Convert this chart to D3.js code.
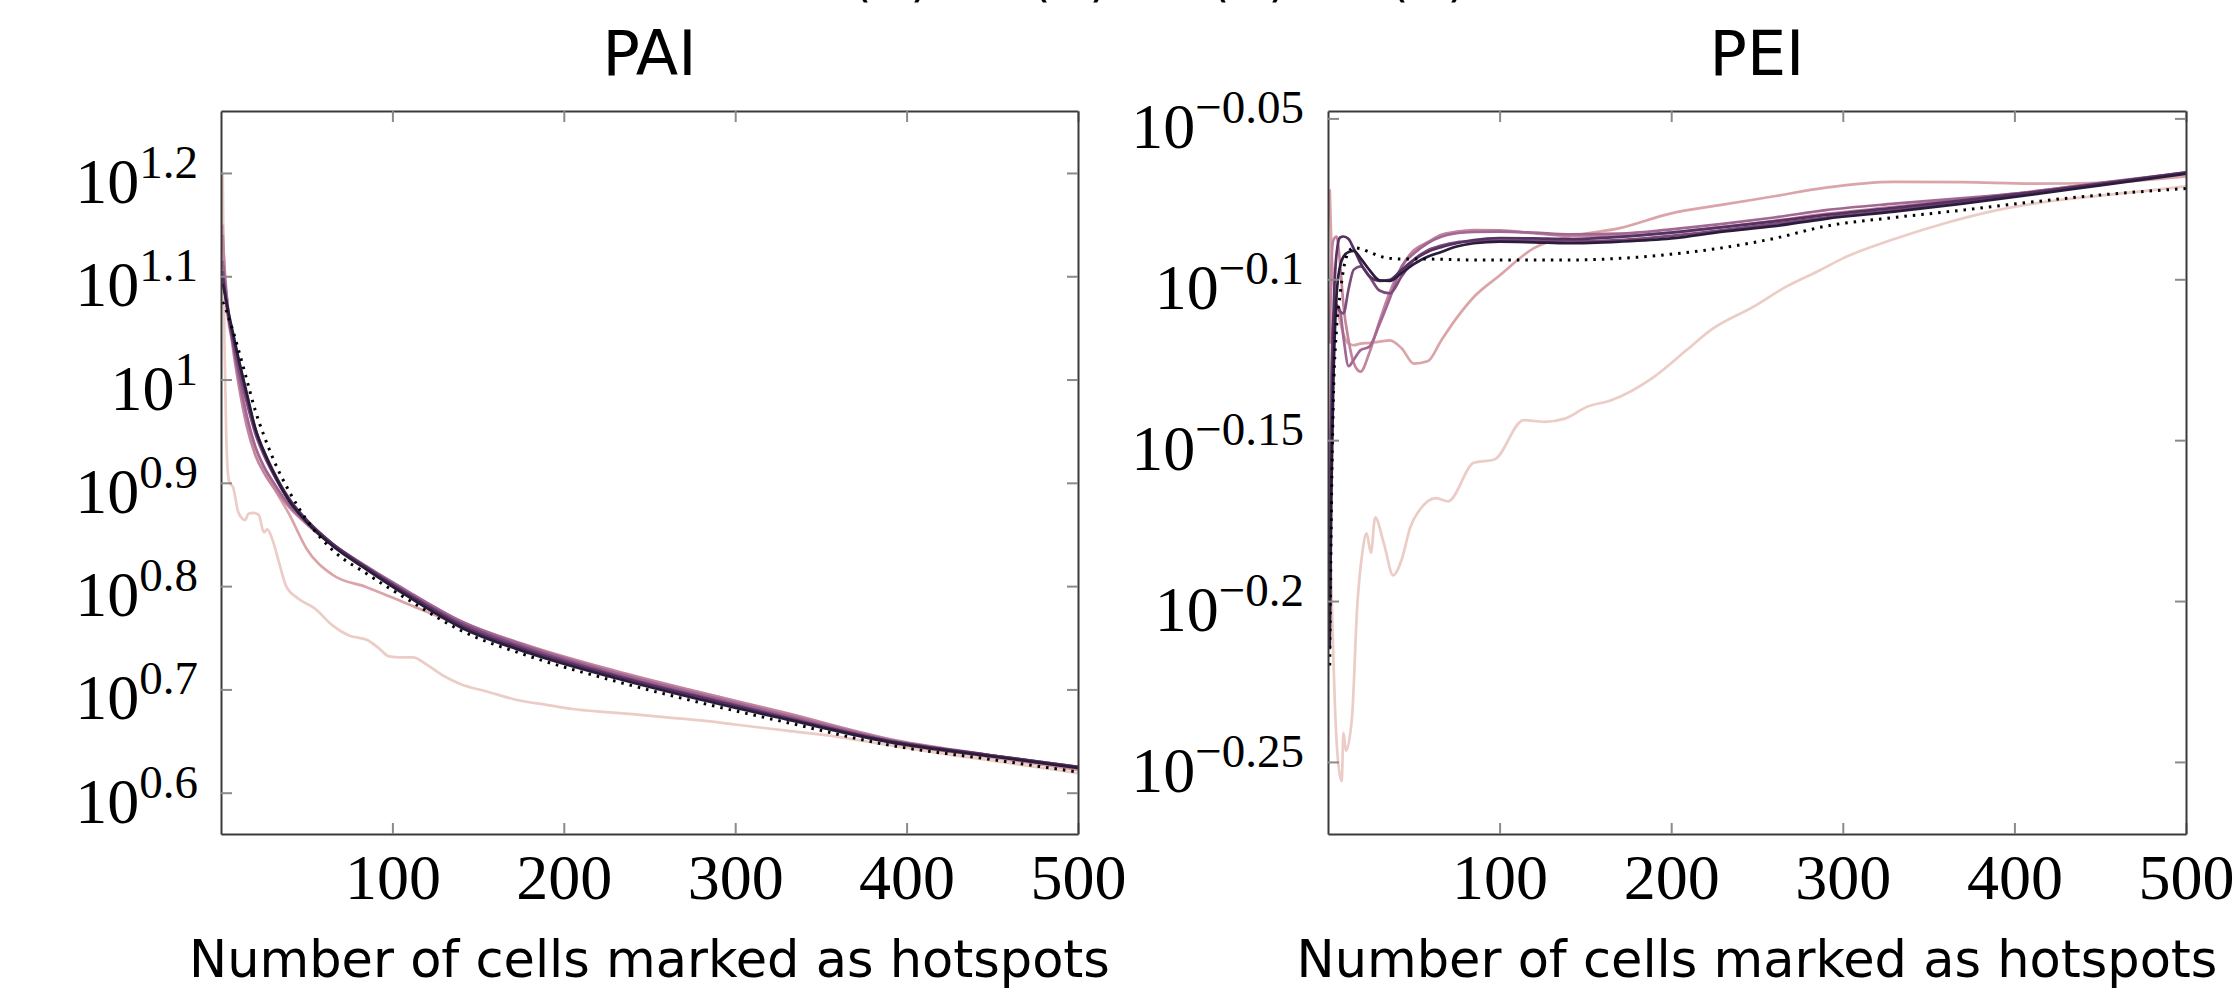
<!DOCTYPE html>
<html>
<head>
<meta charset="utf-8">
<script src="https://cdn.jsdelivr.net/npm/d3@7"></script>
<style>
  body { margin: 0; background: #fff; }
  svg { display: block; }
</style>
</head>
<body>
<svg id="chart" width="2233" height="996"></svg>
<script>
// values are log10 of the metric (axes are labelled 10^x)

// ---- PAI ----
var cellsPai = [1, 2, 4, 7, 10, 15, 20, 25, 30, 40, 50, 65, 85, 110, 140, 180, 230, 280, 330, 390, 450, 500];
var paiRun2 = [1.150, 1.100, 1.060, 1.035, 1.005, 0.965, 0.935, 0.915, 0.898, 0.869, 0.836, 0.811, 0.799, 0.782, 0.762, 0.740, 0.716, 0.697, 0.676, 0.649, 0.634, 0.622];
var paiRun3 = [1.140, 1.110, 1.070, 1.030, 0.998, 0.955, 0.927, 0.910, 0.897, 0.876, 0.860, 0.840, 0.818, 0.793, 0.766, 0.742, 0.718, 0.697, 0.677, 0.652, 0.636, 0.623];
var paiRun4 = [1.115, 1.100, 1.070, 1.035, 1.005, 0.965, 0.935, 0.916, 0.902, 0.878, 0.861, 0.841, 0.819, 0.794, 0.766, 0.741, 0.716, 0.695, 0.675, 0.651, 0.636, 0.624];
var paiRun5 = [1.105, 1.090, 1.064, 1.036, 1.012, 0.978, 0.948, 0.927, 0.910, 0.882, 0.863, 0.841, 0.818, 0.792, 0.764, 0.739, 0.714, 0.693, 0.673, 0.650, 0.636, 0.625];
var paiRun6 = [1.100, 1.088, 1.066, 1.042, 1.020, 0.985, 0.952, 0.931, 0.913, 0.884, 0.864, 0.841, 0.818, 0.791, 0.762, 0.737, 0.713, 0.692, 0.672, 0.650, 0.636, 0.625];
var paiRun7 = [1.093, 1.085, 1.068, 1.045, 1.022, 0.987, 0.953, 0.930, 0.912, 0.882, 0.862, 0.839, 0.816, 0.789, 0.760, 0.735, 0.711, 0.690, 0.671, 0.649, 0.635, 0.624];
var paiBaseline = [1.075, 1.072, 1.062, 1.047, 1.030, 1.000, 0.970, 0.946, 0.925, 0.891, 0.864, 0.835, 0.812, 0.786, 0.757, 0.732, 0.708, 0.687, 0.668, 0.646, 0.632, 0.620];
// lightest run is noisier, sampled more often
var cellsPaiRun1 = [1, 2, 3, 4, 5, 7, 10, 12, 14, 16, 19, 22, 25, 27, 30, 34, 38, 45, 55, 65, 75, 85, 92, 98, 105, 112, 120, 130, 140, 155, 172, 190, 205, 225, 240, 260, 280, 300, 330, 360, 390, 420, 450, 475, 500];
var paiRun1 = [1.200, 1.040, 0.950, 0.910, 0.900, 0.896, 0.872, 0.866, 0.864, 0.870, 0.871, 0.869, 0.852, 0.855, 0.845, 0.822, 0.800, 0.788, 0.778, 0.762, 0.752, 0.748, 0.740, 0.732, 0.731, 0.731, 0.724, 0.713, 0.705, 0.698, 0.690, 0.685, 0.681, 0.678, 0.676, 0.673, 0.670, 0.666, 0.660, 0.654, 0.646, 0.638, 0.631, 0.625, 0.619];
var paiTickExps = [0.6, 0.7, 0.8, 0.9, 1, 1.1, 1.2];

// ---- PEI ----
var cellsPei = [1, 2, 3, 5, 7, 9, 12, 15, 19, 24, 30, 36, 43, 50, 58, 66, 75, 85, 100, 120, 140, 170, 200, 230, 260, 290, 330, 370, 410, 450, 500];
var peiRun2 = [-0.072, -0.090, -0.100, -0.108, -0.113, -0.117, -0.120, -0.1205, -0.120, -0.1198, -0.1194, -0.119, -0.1215, -0.1262, -0.1255, -0.119, -0.112, -0.1055, -0.0988, -0.0903, -0.0868, -0.0841, -0.0795, -0.0768, -0.0742, -0.0715, -0.0697, -0.0698, -0.0703, -0.0700, -0.0680];
var peiRun3 = [-0.120, -0.095, -0.088, -0.0867, -0.095, -0.108, -0.119, -0.126, -0.1287, -0.123, -0.113, -0.104, -0.096, -0.091, -0.0885, -0.0862, -0.0852, -0.0847, -0.0848, -0.0857, -0.0865, -0.0865, -0.0855, -0.0838, -0.0818, -0.0797, -0.0775, -0.0752, -0.0728, -0.0702, -0.0670];
var peiRun4 = [-0.170, -0.130, -0.112, -0.108, -0.1096, -0.118, -0.127, -0.125, -0.122, -0.121, -0.114, -0.106, -0.096, -0.092, -0.0888, -0.0868, -0.0857, -0.0853, -0.0852, -0.0855, -0.0860, -0.0858, -0.0845, -0.0828, -0.0808, -0.0785, -0.0765, -0.0748, -0.0728, -0.0700, -0.0668];
var peiRun5 = [-0.190, -0.140, -0.115, -0.1085, -0.110, -0.1106, -0.103, -0.097, -0.096, -0.099, -0.1035, -0.1044, -0.099, -0.094, -0.091, -0.0895, -0.0885, -0.0882, -0.0880, -0.0880, -0.0882, -0.0878, -0.0865, -0.0847, -0.0828, -0.0808, -0.0785, -0.0760, -0.0734, -0.0705, -0.0670];
var peiRun6 = [-0.200, -0.150, -0.115, -0.092, -0.087, -0.0867, -0.0875, -0.0905, -0.095, -0.099, -0.1005, -0.1002, -0.097, -0.094, -0.0915, -0.090, -0.0888, -0.0878, -0.0872, -0.0873, -0.0875, -0.0868, -0.0855, -0.0838, -0.0820, -0.0800, -0.0778, -0.0755, -0.0730, -0.0703, -0.0668];
var peiRun7 = [-0.215, -0.165, -0.135, -0.105, -0.096, -0.093, -0.0915, -0.0912, -0.0935, -0.097, -0.1003, -0.1005, -0.098, -0.0953, -0.093, -0.0915, -0.0898, -0.0888, -0.0883, -0.0885, -0.0888, -0.0883, -0.0873, -0.0852, -0.0835, -0.0812, -0.0790, -0.0765, -0.0737, -0.0708, -0.0672];
var peiBaseline = [-0.220, -0.170, -0.140, -0.115, -0.105, -0.097, -0.0915, -0.0902, -0.0905, -0.0915, -0.0928, -0.0935, -0.0937, -0.0937, -0.0937, -0.0938, -0.0939, -0.0940, -0.0940, -0.0940, -0.0940, -0.0935, -0.0922, -0.0902, -0.0873, -0.0835, -0.0808, -0.0785, -0.0760, -0.0738, -0.0718];
var cellsPeiRun1 = [1, 1.5, 2, 3, 4, 5.5, 8, 9, 10.5, 14, 17, 20, 22.5, 25, 27.5, 32.5, 38, 43, 48, 53, 63, 70, 85, 97, 114, 126, 138, 151, 165, 190, 209, 223, 248, 267, 287, 300, 330, 360, 390, 420, 450, 475, 500];
var peiRun1 = [-0.210, -0.187, -0.195, -0.215, -0.232, -0.2475, -0.256, -0.241, -0.2465, -0.236, -0.202, -0.185, -0.179, -0.185, -0.174, -0.182, -0.192, -0.187, -0.177, -0.172, -0.168, -0.169, -0.157, -0.156, -0.1438, -0.1443, -0.1433, -0.1396, -0.1376, -0.1303, -0.122, -0.1158, -0.1085, -0.1023, -0.0971, -0.0935, -0.0875, -0.0825, -0.0785, -0.0758, -0.0740, -0.0726, -0.0711];
var peiTickExps = [-0.25, -0.2, -0.15, -0.1, -0.05];

var cellTicks = [100, 200, 300, 400, 500];
var palette = ["#ecccc6", "#dba4a9", "#c3859e", "#a26792", "#7d4a7c", "#553262", "#2c1c3c"];

var svg = d3.select("#chart");
var serif = '"Liberation Serif", "DejaVu Serif", serif';
var sans = '"DejaVu Sans", "Open Sans", sans-serif';

function expLabel(e) {
    return String(+e.toFixed(2)).replace("-", "\u2212");
}

function drawPanel(p) {
    var x = d3.scaleLinear().domain([0, 500]).range([p.left, p.right]);
    var y = d3.scaleLog()
        .domain([Math.pow(10, p.eMin), Math.pow(10, p.eMax)])
        .range([p.bottom, p.top]);

    var g = svg.append("g");
    var clipId = "clip-" + p.title;
    g.append("clipPath").attr("id", clipId).append("rect")
        .attr("x", p.left).attr("y", p.top)
        .attr("width", p.right - p.left).attr("height", p.bottom - p.top);

    var line = d3.line()
        .x(function (d) { return x(d[0]); })
        .y(function (d) { return y(Math.pow(10, d[1])); })
        .curve(d3.curveMonotoneX);

    var lines = g.append("g").attr("clip-path", "url(#" + clipId + ")");
    p.series.forEach(function (s) {
        lines.append("path")
            .datum(d3.zip(s.x, s.e))
            .attr("d", line)
            .attr("fill", "none")
            .attr("stroke", s.color)
            .attr("stroke-width", s.dotted ? 3 : 2.7)
            .attr("stroke-dasharray", s.dotted ? "2.5,6" : null)
            .attr("stroke-linejoin", "round");
    });

    // frame + inward ticks on all four sides
    var tv = p.eTicks.map(function (e) { return Math.pow(10, e); });
    var axes = [
        {a: d3.axisBottom(x).tickValues(cellTicks), t: "translate(0," + p.bottom + ")", labels: true},
        {a: d3.axisTop(x).tickValues(cellTicks), t: "translate(0," + p.top + ")"},
        {a: d3.axisLeft(y).tickValues(tv), t: "translate(" + p.left + ",0)"},
        {a: d3.axisRight(y).tickValues(tv), t: "translate(" + p.right + ",0)"}
    ];
    axes.forEach(function (ax) {
        var a = ax.a.tickSizeInner(-11).tickSizeOuter(0).tickPadding(20);
        if (!ax.labels) a.tickFormat("");
        var ag = g.append("g").attr("transform", ax.t).call(a);
        ag.select(".domain").attr("stroke", "#3a3a3a").attr("stroke-width", 2);
        ag.selectAll(".tick line").attr("stroke", "#8a8a8a").attr("stroke-width", 2);
        ag.selectAll(".tick text")
            .attr("font-family", serif).attr("font-size", 64).attr("fill", "#000");
    });

    // y labels as 10^e
    p.eTicks.forEach(function (e) {
        var t = g.append("text")
            .attr("x", p.labelRight)
            .attr("y", y(Math.pow(10, e)) + 30)
            .attr("text-anchor", "end")
            .attr("font-family", serif)
            .attr("fill", "#000");
        t.append("tspan").attr("font-size", 64).text("10");
        t.append("tspan").attr("font-size", 47).attr("dy", -25).text(expLabel(e));
    });

    var cx = (p.left + p.right) / 2;
    g.append("text").attr("x", cx).attr("y", 75)
        .attr("text-anchor", "middle").attr("font-family", sans)
        .attr("font-size", 62).text(p.title);
    g.append("text").attr("x", cx).attr("y", 977)
        .attr("text-anchor", "middle").attr("font-family", sans)
        .attr("font-size", 51).text("Number of cells marked as hotspots");
}

function runs(cells, cellsRun1, r1, rest, base) {
    var out = [{x: cellsRun1, e: r1, color: palette[0]}];
    rest.forEach(function (r, i) { out.push({x: cells, e: r, color: palette[i + 1]}); });
    out.push({x: cells, e: base, color: "#000", dotted: true});
    return out;
}

drawPanel({
    title: "PAI", left: 221, right: 1078, top: 111, bottom: 834,
    eMin: 0.560, eMax: 1.260, eTicks: paiTickExps, labelRight: 198,
    series: runs(cellsPai, cellsPaiRun1, paiRun1, [paiRun2, paiRun3, paiRun4, paiRun5, paiRun6, paiRun7], paiBaseline)
});
drawPanel({
    title: "PEI", left: 1328, right: 2186, top: 111, bottom: 834,
    eMin: -0.2724, eMax: -0.0477, eTicks: peiTickExps, labelRight: 1304,
    series: runs(cellsPei, cellsPeiRun1, peiRun1, [peiRun2, peiRun3, peiRun4, peiRun5, peiRun6, peiRun7], peiBaseline)
});

// legend row above, cut off by the top edge: only the bottoms of the brackets show
[0, 1, 2, 3].forEach(function (i) {
    var c = 891 + i * 179;
    svg.append("text").attr("x", c - 29).attr("y", -4).attr("text-anchor", "middle")
        .attr("font-family", sans).attr("font-size", 50).text("(");
    svg.append("text").attr("x", c + 29).attr("y", -4).attr("text-anchor", "middle")
        .attr("font-family", sans).attr("font-size", 50).text(")");
});
</script>
</body>
</html>
